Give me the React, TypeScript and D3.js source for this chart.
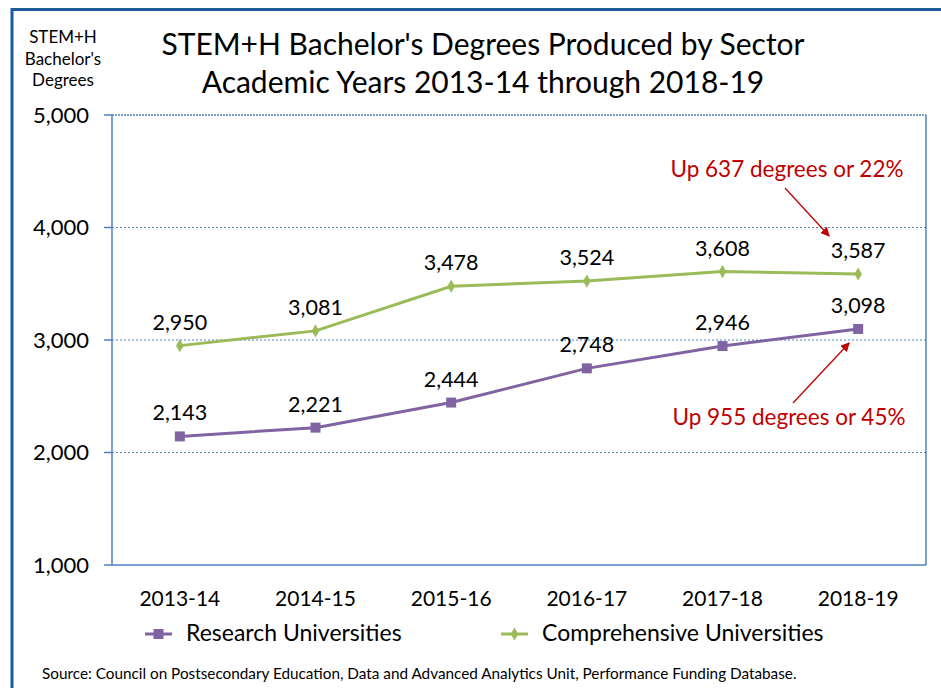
import React from "react";
import * as d3 from "d3";

const years = ["2013-14", "2014-15", "2015-16", "2016-17", "2017-18", "2018-19"];
const research = [2143, 2221, 2444, 2748, 2946, 3098];
const comprehensive = [2950, 3081, 3478, 3524, 3608, 3587];
const yTicks = [1000, 2000, 3000, 4000, 5000];
const gridTicks = [2000, 3000, 4000];
const seriesNames = ["Research Universities", "Comprehensive Universities"];
const titleLines = ["STEM+H Bachelor's Degrees Produced by Sector", "Academic Years 2013-14 through 2018-19"];
const yTitleLines = ["STEM+H", "Bachelor's", "Degrees"];
const annotations = ["Up 637 degrees or 22%", "Up 955 degrees or 45%"];
const sourceText = "Source:  Council on Postsecondary Education, Data and Advanced Analytics Unit, Performance Funding Database.";

const W = 941, H = 688;
const FONT = "Lato, 'Open Sans', sans-serif";
const PURPLE = "#8064A2";
const GREEN = "#9BBB59";
const RED = "#C00000";
const AXIS = "#4F81BD";

export default function App() {
  const left = 112, right = 926, top = 115, bottom = 565;
  const x = d3.scaleBand<string>().domain(years).range([left, right]);
  const cx = (d: string) => (x(d) as number) + x.bandwidth() / 2;
  const y = d3.scaleLinear().domain([1000, 5000]).range([bottom, top]);
  const line = d3.line<number>().x((_, i) => cx(years[i])).y((v) => y(v));
  const fmt = d3.format(",");
  const diamond = d3.symbol().type(d3.symbolDiamond).size(50)();

  const lastX = cx(years[5]);
  return (
    <svg width={W} height={H} style={{ position: "absolute", left: 0, top: 0, background: "#fff" }} fontFamily={FONT}>
      <defs>
        <marker id="arr" viewBox="0 0 10 10" refX="9" refY="5" markerWidth="7" markerHeight="7" orient="auto-start-reverse">
          <path d="M0,0 L10,5 L0,10 z" fill={RED} />
        </marker>
      </defs>
      <rect x={0} y={0} width={W} height={H} fill="#fff" />
      <rect x={12} y={9.5} width={W + 20} height={H + 20} fill="none" stroke="#1F5A9A" strokeWidth={3} />
      {titleLines.map((t, i) => (
        <text key={t} x={483} y={55 + i * 38} textAnchor="middle" fontSize={30} fill="#000">{t}</text>
      ))}
      {yTitleLines.map((t, i) => (
        <text key={t} x={63} y={43 + i * 21.5} textAnchor="middle" fontSize={17} fill="#000">{t}</text>
      ))}
      {gridTicks.map((t) => (
        <line key={t} x1={left} x2={right} y1={y(t)} y2={y(t)} stroke={AXIS} strokeWidth={1} strokeDasharray="2,2" />
      ))}
      <line x1={left} x2={right} y1={top} y2={top} stroke={AXIS} strokeWidth={1.5} strokeDasharray="2,1" />
      <line x1={right} x2={right} y1={top} y2={bottom} stroke={AXIS} strokeWidth={1.5} />
      <line x1={left} x2={right} y1={bottom} y2={bottom} stroke={AXIS} strokeWidth={1.5} />
      <line x1={left} x2={left} y1={top} y2={bottom} stroke={AXIS} strokeWidth={1.5} />
      {yTicks.map((t) => (
        <g key={t}>
          <line x1={left - 8} x2={left} y1={y(t)} y2={y(t)} stroke={AXIS} strokeWidth={1.5} />
          <text x={left - 23} y={y(t)} dy="0.35em" textAnchor="end" fontSize={22} fill="#000">{fmt(t)}</text>
        </g>
      ))}
      {years.map((yr) => (
        <text key={yr} x={cx(yr)} y={606} textAnchor="middle" fontSize={21} fill="#000">{yr}</text>
      ))}
      <path d={line(comprehensive) || ""} fill="none" stroke={GREEN} strokeWidth={3} />
      <path d={line(research) || ""} fill="none" stroke={PURPLE} strokeWidth={3} />
      {comprehensive.map((v, i) => (
        <g key={"c" + i}>
          <path d={diamond || ""} transform={`translate(${cx(years[i])},${y(v)})`} fill={GREEN} />
          <text x={cx(years[i])} y={y(v) - 16} textAnchor="middle" fontSize={21.5} fill="#000">{fmt(v)}</text>
        </g>
      ))}
      {research.map((v, i) => (
        <g key={"r" + i}>
          <rect x={cx(years[i]) - 5} y={y(v) - 5} width={10} height={10} fill={PURPLE} />
          <text x={cx(years[i])} y={y(v) - 16} textAnchor="middle" fontSize={21.5} fill="#000">{fmt(v)}</text>
        </g>
      ))}
      <text x={787} y={177} textAnchor="middle" fontSize={22.5} fill={RED}>{annotations[0]}</text>
      <line x1={785} y1={188} x2={lastX - 29} y2={y(comprehensive[5]) - 38} stroke={RED} strokeWidth={1.3} markerEnd="url(#arr)" />
      <text x={789} y={425} textAnchor="middle" fontSize={22.5} fill={RED}>{annotations[1]}</text>
      <line x1={793} y1={403} x2={lastX - 9} y2={y(research[5]) + 14} stroke={RED} strokeWidth={1.3} markerEnd="url(#arr)" />
      <line x1={145} x2={172} y1={634} y2={634} stroke={PURPLE} strokeWidth={3} />
      <rect x={153.5} y={629} width={10} height={10} fill={PURPLE} />
      <text x={186} y={641} fontSize={23} fill="#000">{seriesNames[0]}</text>
      <line x1={501} x2={528} y1={634} y2={634} stroke={GREEN} strokeWidth={3} />
      <path d={diamond || ""} transform="translate(514.5,634)" fill={GREEN} />
      <text x={542} y={641} fontSize={23} fill="#000">{seriesNames[1]}</text>
      <text x={42} y={679} fontSize={15.3} fill="#000">{sourceText}</text>
    </svg>
  );
}
